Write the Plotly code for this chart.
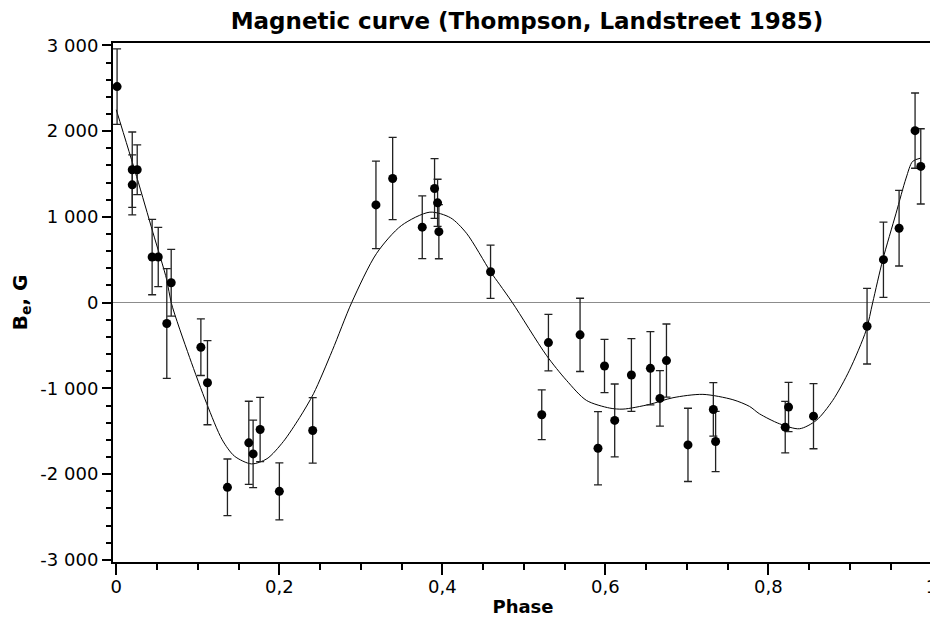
import plotly.graph_objects as go

# Observed data: phase, longitudinal field Be (G), error (G)
phase = [0.001, 0.0196, 0.0196, 0.0257, 0.044, 0.0515, 0.062, 0.0674, 0.1038, 0.1119,
         0.1364, 0.1626, 0.1679, 0.1765, 0.2001, 0.241, 0.3186, 0.3391, 0.3754, 0.3905,
         0.3942, 0.3958, 0.4592, 0.522, 0.5302, 0.569, 0.591, 0.599, 0.6115, 0.632,
         0.6553, 0.667, 0.675, 0.7014, 0.7325, 0.7353, 0.8207, 0.8248, 0.8554, 0.9211,
         0.9412, 0.9604, 0.980, 0.987]
be = [2520, 1550, 1374, 1550, 532, 532, -243, 232, -520, -934,
      -2154, -1635, -1764, -1480, -2201, -1491, 1140, 1448, 880, 1331,
      1164, 828, 360, -1308, -466, -376, -1698, -739, -1374, -844,
      -766, -1117, -676, -1659, -1246, -1620, -1452, -1218, -1324, -275,
      501, 868, 2006, 1589]
be_err = [440, 440, 350, 290, 440, 345, 640, 390, 330, 490,
          330, 485, 394, 374, 332, 382, 511, 480, 366, 349,
          275, 316, 310, 290, 330, 427, 427, 310, 425, 425,
          427, 324, 427, 427, 312, 351, 300, 287, 380, 441,
          439, 441, 439, 439]

# Fitted curve
fit_phase = [0.0, 0.025, 0.045, 0.062, 0.0674, 0.09, 0.111, 0.13, 0.145, 0.166,
             0.185, 0.205, 0.225, 0.242, 0.265, 0.2888, 0.3194, 0.35, 0.3848, 0.41,
             0.4297, 0.4592, 0.4706, 0.486, 0.5277, 0.5523, 0.5768, 0.6054, 0.6217, 0.654,
             0.683, 0.7197, 0.7565, 0.777, 0.789, 0.8137, 0.8382, 0.8587, 0.879, 0.8995,
             0.92, 0.928, 0.9403, 0.9567, 0.969, 0.977, 0.987]
fit_be = [2250, 1470, 818, 263, 0, -640, -1179, -1600, -1790, -1881,
          -1820, -1620, -1340, -1062, -560, 0, 575, 900, 1055, 990,
          809, 360, 208, 0, -614, -906, -1140, -1230, -1242, -1187,
          -1109, -1070, -1132, -1211, -1296, -1413, -1471, -1374, -1140, -789,
          -322, 0, 497, 1043, 1453, 1647, 1686]

x_ticks = [0, 0.2, 0.4, 0.6, 0.8, 1]
x_labels = ["0", "0,2", "0,4", "0,6", "0,8", "1"]
y_ticks = [-3000, -2000, -1000, 0, 1000, 2000, 3000]
y_labels = ["-3 000", "-2 000", "-1 000", "0", "1 000", "2 000", "3 000"]

fig = go.Figure()
fig.add_trace(go.Scatter(
    x=fit_phase, y=fit_be, mode="lines",
    line=dict(color="black", width=1, shape="spline", smoothing=0.8),
    hoverinfo="skip", showlegend=False))
fig.add_trace(go.Scatter(
    x=phase, y=be, mode="markers",
    marker=dict(color="black", size=9),
    error_y=dict(type="data", array=be_err, visible=True, color="#222222",
                 thickness=1.3, width=4),
    showlegend=False))

font_family = "DejaVu Sans"
# page body has an 8px margin, so the figure is 8px smaller than the window
fig.update_layout(
    width=930, height=614,
    margin=dict(l=105, r=5, t=35, b=60, autoexpand=False),
    paper_bgcolor="white", plot_bgcolor="white",
    font=dict(family=font_family, size=18, color="black"),
    title=dict(text="<b>Magnetic curve (Thompson, Landstreet 1985)</b>",
               x=0.558, xanchor="center", y=0.9788, yanchor="middle",
               font=dict(family=font_family, size=23, color="black")),
    xaxis=dict(
        range=[-0.004, 1.002], tickvals=x_ticks, ticktext=x_labels,
        ticks="outside", ticklen=11, automargin=False,
        ticklabeloverflow="allow", ticklabelstandoff=-4,
        tickwidth=2, tickcolor="black", showline=True, linecolor="black",
        linewidth=2, mirror=True, showgrid=False, zeroline=False,
        tickfont=dict(size=18),
        minor=dict(dtick=0.05, tick0=0, ticks="outside", ticklen=6, tickwidth=2,
                   tickcolor="black", showgrid=False),
        title=dict(text="<b>Phase</b>", font=dict(size=18), standoff=5)),
    yaxis=dict(
        range=[-3025, 3028], tickvals=y_ticks, ticktext=y_labels,
        ticks="outside", ticklen=9, automargin=False,
        tickwidth=2, tickcolor="black", showline=True, linecolor="black",
        linewidth=2, mirror=True, showgrid=False, zeroline=True,
        zerolinecolor="#8c8c8c", zerolinewidth=1,
        tickfont=dict(size=18),
        minor=dict(dtick=200, tick0=0, ticks="outside", ticklen=5, tickwidth=2,
                   tickcolor="black", showgrid=False),
        title=dict(text="<b>B<sub>e</sub>, G</b>", font=dict(size=20), standoff=13)),
)

fig.write_html("out.html")
